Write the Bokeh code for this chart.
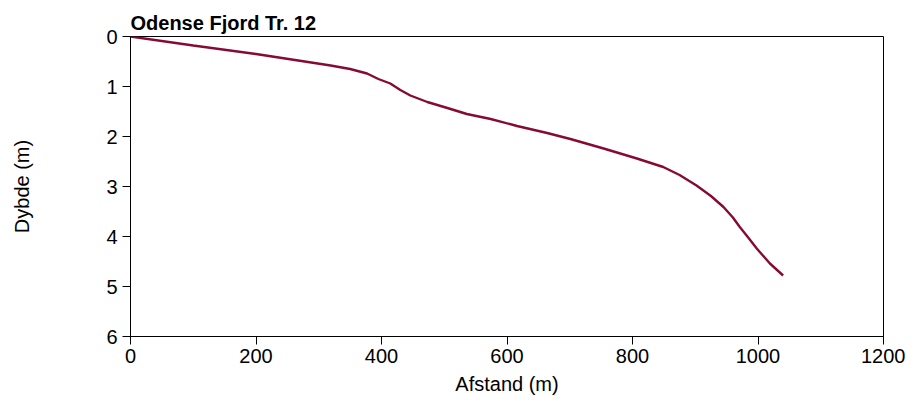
from bokeh.plotting import figure
from bokeh.models import Range1d, FixedTicker
from bokeh.embed import file_html
from bokeh.resources import INLINE

# Data
afstand = [0, 100, 200, 319, 350, 377, 395, 414, 430, 446, 473, 505, 536, 574, 616, 664, 701, 754, 807, 849, 875, 902, 925, 945, 960, 971, 985, 998, 1019, 1040]
dybde = [0.0, 0.18, 0.35, 0.58, 0.65, 0.74, 0.85, 0.94, 1.07, 1.18, 1.31, 1.43, 1.55, 1.65, 1.79, 1.93, 2.05, 2.24, 2.44, 2.61, 2.77, 2.98, 3.19, 3.41, 3.62, 3.81, 4.03, 4.24, 4.54, 4.78]

x_ticks = [0, 200, 400, 600, 800, 1000, 1200]
y_ticks = [0, 1, 2, 3, 4, 5, 6]
title_text = "Odense Fjord Tr. 12"
x_label = "Afstand (m)"
y_label = "Dybde (m)"

FONT = "Liberation Sans"

p = figure(width=905, height=397, output_backend="svg", toolbar_location=None,
           x_range=Range1d(0, 1200), y_range=Range1d(6, 0),
           min_border_left=130, min_border_right=22, min_border_top=36, min_border_bottom=60)

p.title.text = title_text
p.title.align = "left"
p.title.text_font = FONT
p.title.text_font_size = "20px"
p.title.text_font_style = "bold"
p.title.text_color = "black"
p.title.offset = 0
p.title.standoff = 6

p.line(afstand, dybde, line_color="#850a35", line_width=2.4)

p.xgrid.visible = False
p.ygrid.visible = False
p.outline_line_color = "black"
p.outline_line_width = 1
p.outline_line_alpha = 1

for ax in (p.xaxis[0], p.yaxis[0]):
    ax.axis_line_color = "black"
    ax.major_tick_line_color = "black"
    ax.major_tick_out = 8
    ax.major_tick_in = 0
    ax.minor_tick_line_color = None
    ax.major_label_text_font = FONT
    ax.major_label_text_font_size = "20px"
    ax.major_label_text_color = "black"
    ax.axis_label_text_font = FONT
    ax.axis_label_text_font_size = "20px"
    ax.axis_label_text_font_style = "normal"
    ax.axis_label_text_color = "black"

p.xaxis.ticker = FixedTicker(ticks=x_ticks)
p.yaxis.ticker = FixedTicker(ticks=y_ticks)
p.xaxis.axis_label = x_label
p.yaxis.axis_label = y_label
p.xaxis.major_label_standoff = 4
p.yaxis.major_label_standoff = 5
p.xaxis.axis_label_standoff = 7
p.yaxis.axis_label_standoff = 70

open("out.html", "w").write(file_html(p, INLINE))
